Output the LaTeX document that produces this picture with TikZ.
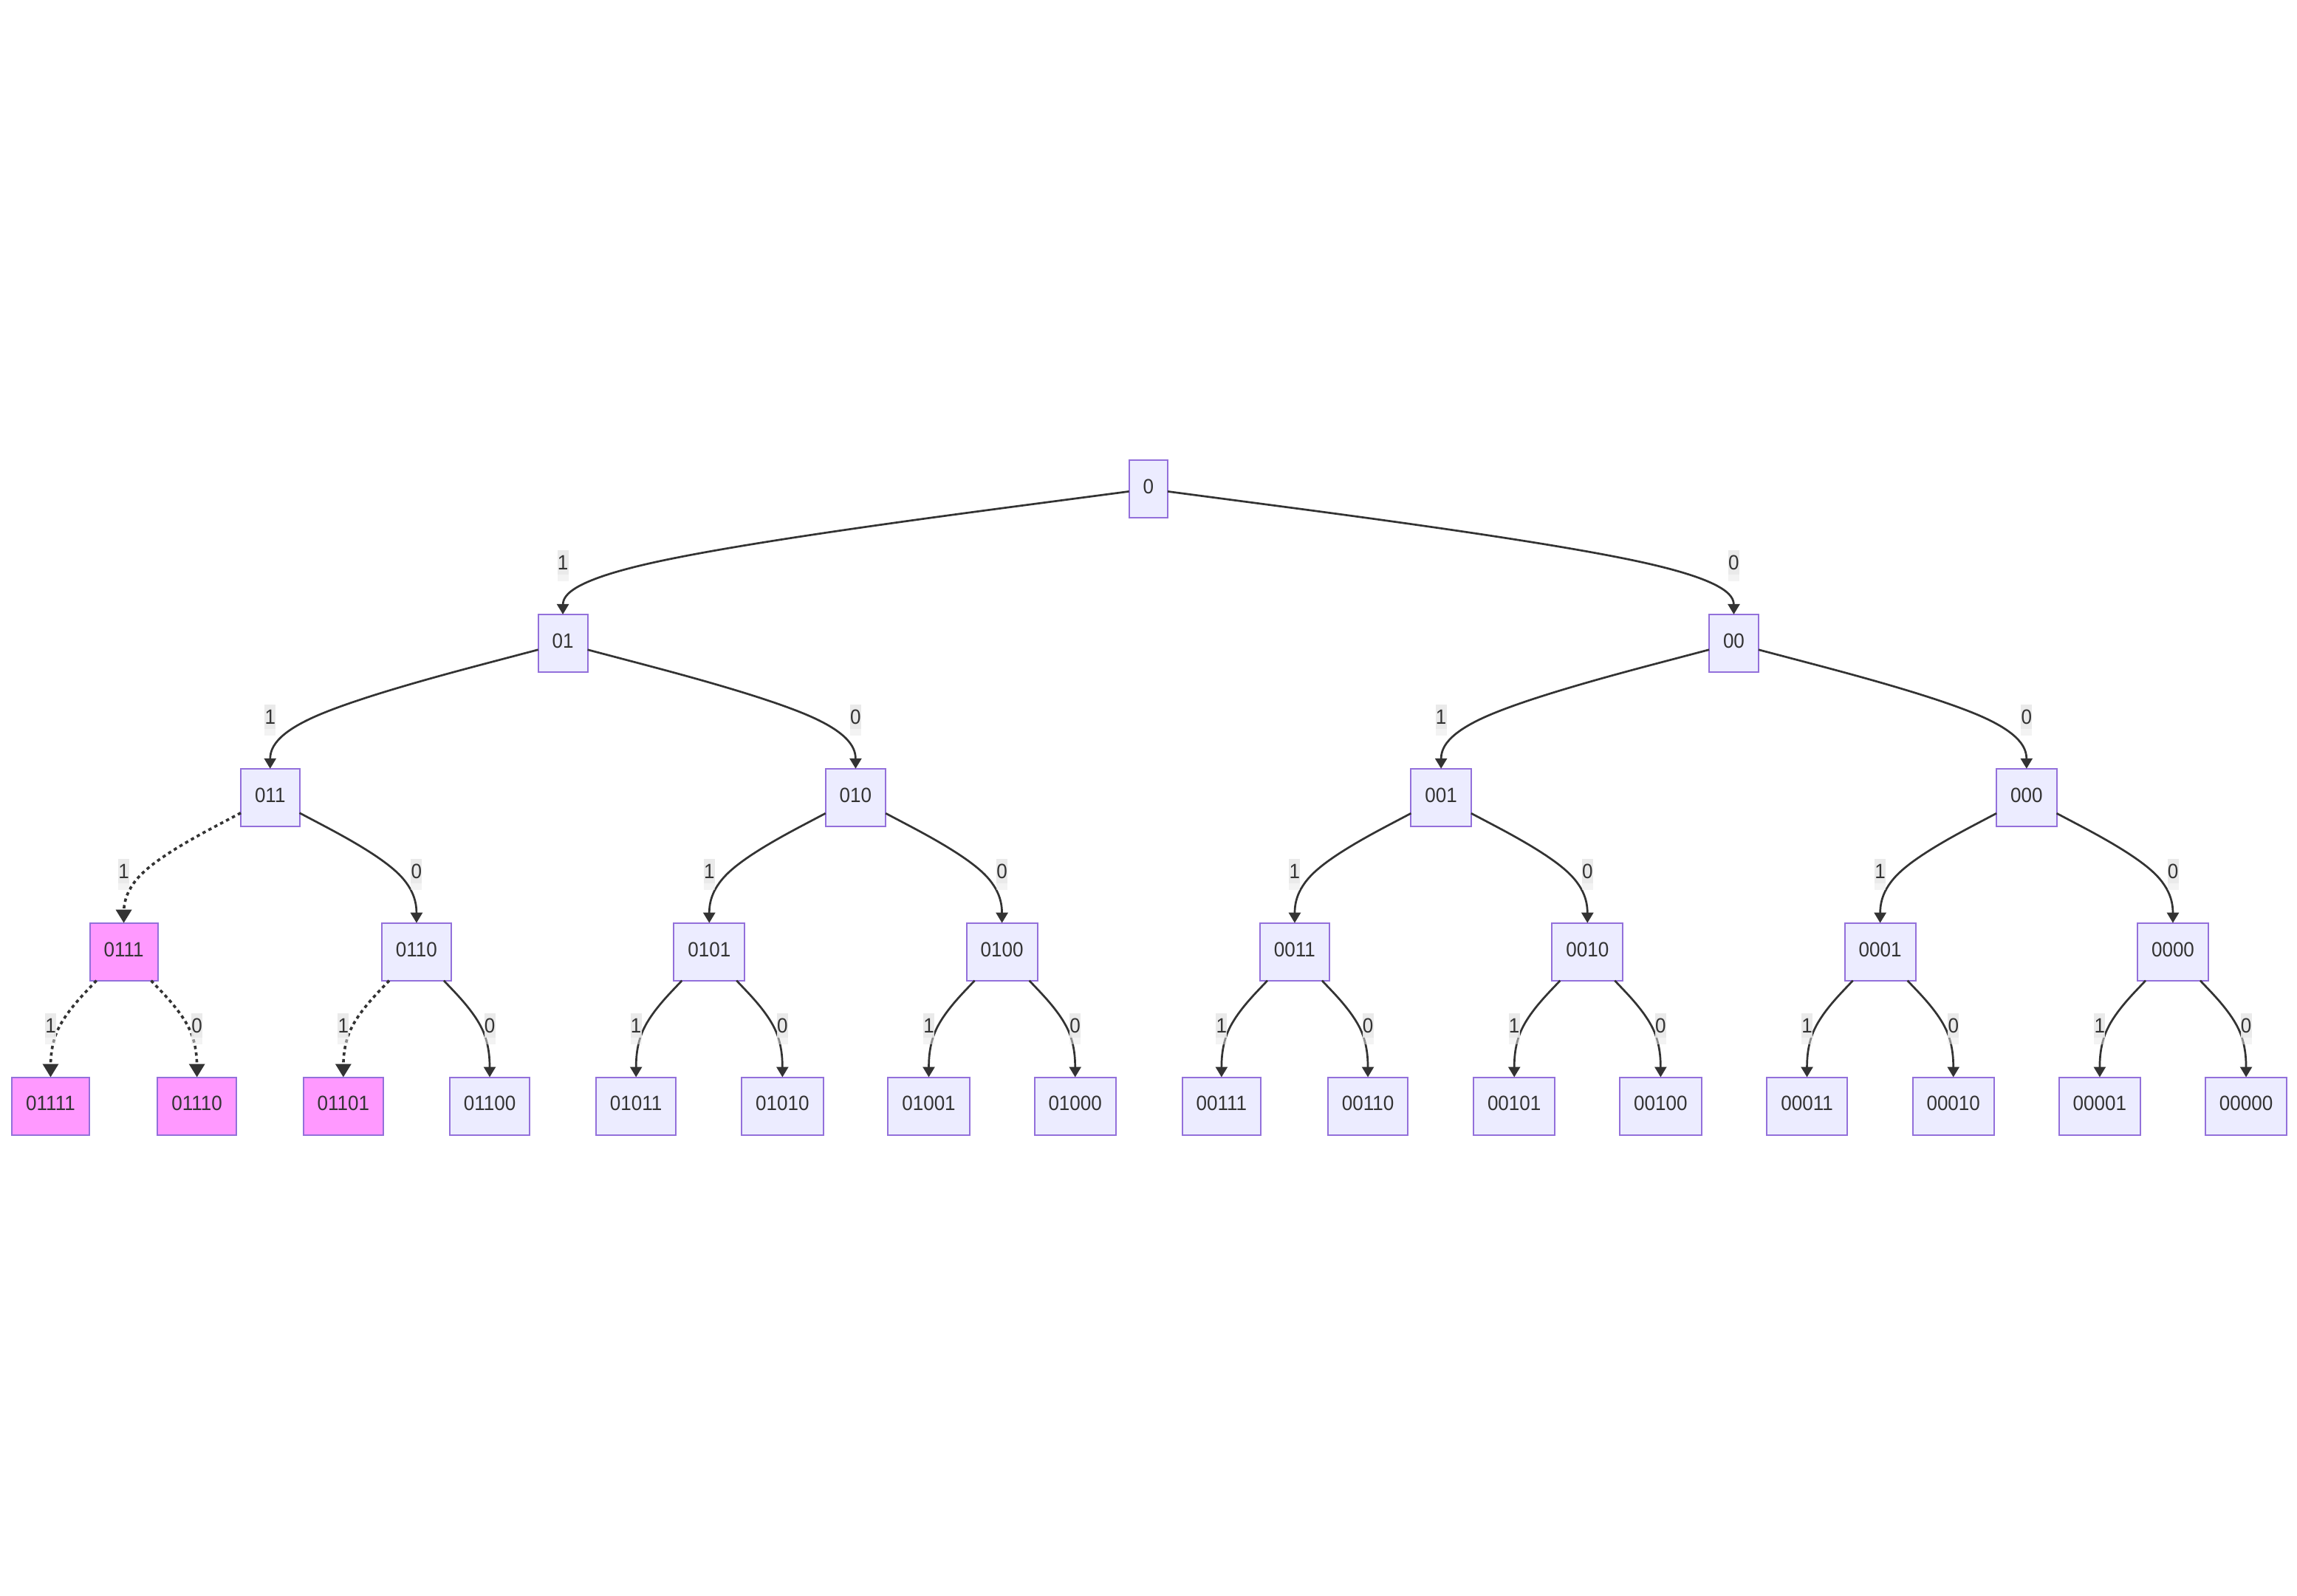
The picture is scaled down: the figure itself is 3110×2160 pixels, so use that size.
\documentclass[tikz,border=0pt]{standalone}
\usepackage{fontspec}
\setmainfont[FakeStretch=0.93]{Liberation Sans}
\usetikzlibrary{arrows.meta,calc}
\definecolor{nodefill}{HTML}{ECECFF}
\definecolor{nodeborder}{HTML}{9370DB}
\definecolor{pinkfill}{HTML}{FF99FF}
\definecolor{ink}{HTML}{333333}
\definecolor{lblbg}{HTML}{E8E8E8}
\tikzset{
  tnode/.style={draw=nodeborder, fill=nodefill, line width=2pt, inner xsep=19pt, inner ysep=0pt,
    minimum height=78pt, text height=20pt, text depth=7.2pt, outer sep=0pt, text=ink,
    font=\fontsize{28pt}{32pt}\selectfont},
  hl/.style={fill=pinkfill},
  solidedge/.style={draw=ink, line width=2.7pt, -{Triangle[length=14pt,width=16pt]}},
  dottededge/.style={draw=ink, line width=3.6pt, dash pattern=on 4.5pt off 4.5pt, -{Triangle[length=18pt,width=21pt]}},
  lbltext/.style={text=ink, font=\fontsize{28pt}{32pt}\selectfont, inner sep=0pt},
}
\newcommand\tedge[3]{%
  \coordinate (M) at ($(#1.center)!0.5!(#2.center)$);
  \coordinate (L) at (#2.center |- M);
  \path (#1) -- (L) coordinate[pos=0] (S);
  \coordinate (T) at (#2.north);
  \draw[#3] (S) -- ($(S)!0.166667!(L)$) .. controls ($(S)!0.333333!(L)$) and ($(S)!0.666667!(L)$) .. ($0.166667*(S)+0.666667*(L)+0.166667*(T)$) .. controls ($(L)!0.333333!(T)$) and ($(L)!0.666667!(T)$) .. ($(L)!0.833333!(T)$) -- (T);
}
\newcommand\tlabel[3]{%
  \coordinate (M) at ($(#1.center)!0.5!(#2.center)$);
  \coordinate (L) at (#2.center |- M);
  \fill[lblbg, opacity=0.92] ($(L)+(-7.5,-21)$) rectangle ($(L)+(7.5,12)$);
  \fill[lblbg, opacity=0.5] ($(L)+(-7.5,12)$) rectangle ($(L)+(7.5,21)$);
  \node[lbltext] (lbl#2) at ($(L)+(0,-4.5)$) {#3};
}
\begin{document}
\begin{tikzpicture}[x=1pt,y=-1pt]
\useasboundingbox (0,0) rectangle (3110,2160);
% level 0
\node[tnode] (n0) at (1554.78,662) {0};
% level 1
\node[tnode] (n01) at (762.1,870.9) {01};
\node[tnode] (n00) at (2347.46,870.9) {00};
% level 2
\node[tnode] (n011) at (365.76,1079.8) {011};
\node[tnode] (n010) at (1158.44,1079.8) {010};
\node[tnode] (n001) at (1951.12,1079.8) {001};
\node[tnode] (n000) at (2743.8,1079.8) {000};
% level 3
\node[tnode,hl] (n0111) at (167.59,1288.7) {0111};
\node[tnode] (n0110) at (563.93,1288.7) {0110};
\node[tnode] (n0101) at (960.27,1288.7) {0101};
\node[tnode] (n0100) at (1356.61,1288.7) {0100};
\node[tnode] (n0011) at (1752.95,1288.7) {0011};
\node[tnode] (n0010) at (2149.29,1288.7) {0010};
\node[tnode] (n0001) at (2545.63,1288.7) {0001};
\node[tnode] (n0000) at (2941.97,1288.7) {0000};
% level 4
\node[tnode,hl] (n01111) at (68.5,1497.5) {01111};
\node[tnode,hl] (n01110) at (266.67,1497.5) {01110};
\node[tnode,hl] (n01101) at (464.84,1497.5) {01101};
\node[tnode] (n01100) at (663.01,1497.5) {01100};
\node[tnode] (n01011) at (861.18,1497.5) {01011};
\node[tnode] (n01010) at (1059.35,1497.5) {01010};
\node[tnode] (n01001) at (1257.52,1497.5) {01001};
\node[tnode] (n01000) at (1455.69,1497.5) {01000};
\node[tnode] (n00111) at (1653.86,1497.5) {00111};
\node[tnode] (n00110) at (1852.03,1497.5) {00110};
\node[tnode] (n00101) at (2050.2,1497.5) {00101};
\node[tnode] (n00100) at (2248.37,1497.5) {00100};
\node[tnode] (n00011) at (2446.54,1497.5) {00011};
\node[tnode] (n00010) at (2644.71,1497.5) {00010};
\node[tnode] (n00001) at (2842.88,1497.5) {00001};
\node[tnode] (n00000) at (3041.05,1497.5) {00000};
% edges
\tedge{n0}{n01}{solidedge}
\tedge{n0}{n00}{solidedge}
\tedge{n01}{n011}{solidedge}
\tedge{n01}{n010}{solidedge}
\tedge{n00}{n001}{solidedge}
\tedge{n00}{n000}{solidedge}
\tedge{n011}{n0111}{dottededge}
\tedge{n011}{n0110}{solidedge}
\tedge{n010}{n0101}{solidedge}
\tedge{n010}{n0100}{solidedge}
\tedge{n001}{n0011}{solidedge}
\tedge{n001}{n0010}{solidedge}
\tedge{n000}{n0001}{solidedge}
\tedge{n000}{n0000}{solidedge}
\tedge{n0111}{n01111}{dottededge}
\tedge{n0111}{n01110}{dottededge}
\tedge{n0110}{n01101}{dottededge}
\tedge{n0110}{n01100}{solidedge}
\tedge{n0101}{n01011}{solidedge}
\tedge{n0101}{n01010}{solidedge}
\tedge{n0100}{n01001}{solidedge}
\tedge{n0100}{n01000}{solidedge}
\tedge{n0011}{n00111}{solidedge}
\tedge{n0011}{n00110}{solidedge}
\tedge{n0010}{n00101}{solidedge}
\tedge{n0010}{n00100}{solidedge}
\tedge{n0001}{n00011}{solidedge}
\tedge{n0001}{n00010}{solidedge}
\tedge{n0000}{n00001}{solidedge}
\tedge{n0000}{n00000}{solidedge}
% labels
\tlabel{n0}{n01}{1}
\tlabel{n0}{n00}{0}
\tlabel{n01}{n011}{1}
\tlabel{n01}{n010}{0}
\tlabel{n00}{n001}{1}
\tlabel{n00}{n000}{0}
\tlabel{n011}{n0111}{1}
\tlabel{n011}{n0110}{0}
\tlabel{n010}{n0101}{1}
\tlabel{n010}{n0100}{0}
\tlabel{n001}{n0011}{1}
\tlabel{n001}{n0010}{0}
\tlabel{n000}{n0001}{1}
\tlabel{n000}{n0000}{0}
\tlabel{n0111}{n01111}{1}
\tlabel{n0111}{n01110}{0}
\tlabel{n0110}{n01101}{1}
\tlabel{n0110}{n01100}{0}
\tlabel{n0101}{n01011}{1}
\tlabel{n0101}{n01010}{0}
\tlabel{n0100}{n01001}{1}
\tlabel{n0100}{n01000}{0}
\tlabel{n0011}{n00111}{1}
\tlabel{n0011}{n00110}{0}
\tlabel{n0010}{n00101}{1}
\tlabel{n0010}{n00100}{0}
\tlabel{n0001}{n00011}{1}
\tlabel{n0001}{n00010}{0}
\tlabel{n0000}{n00001}{1}
\tlabel{n0000}{n00000}{0}
\end{tikzpicture}
\end{document}
